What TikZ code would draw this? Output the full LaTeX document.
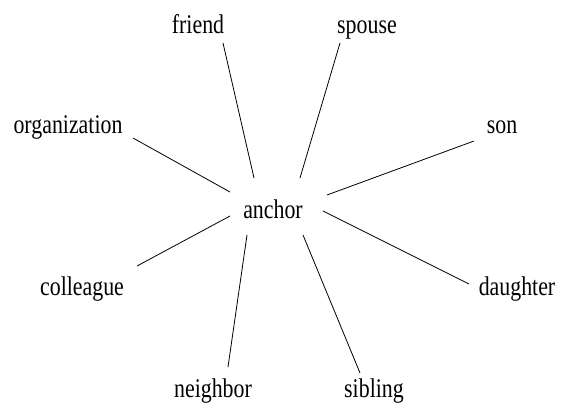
\documentclass[tikz,border=0pt]{standalone}
\usepackage{fontspec}
\usepackage{graphicx}
\setmainfont{Liberation Serif}
\usetikzlibrary{calc}
\tikzset{
  lbl/.style={anchor=base, inner sep=0pt, font=\fontsize{27}{30}\selectfont},
  edge/.style={draw=black, line width=0.8pt}
}
\newcommand{\cond}[1]{\scalebox{0.81}[1]{#1}}
\begin{document}
\begin{tikzpicture}[x=1pt, y=-1pt]
\useasboundingbox[fill=white] (0,0) rectangle (561,407);
\node[lbl] (anchor) at (273,218) {\cond{anchor}};
\node[lbl] (friend) at (198,33) {\cond{friend}};
\node[lbl] (spouse) at (367,33) {\cond{spouse}};
\node[lbl] (organization) at (68,133) {\cond{organization}};
\node[lbl] (son) at (502,133) {\cond{son}};
\node[lbl] (colleague) at (82,295) {\cond{colleague}};
\node[lbl] (daughter) at (517,295) {\cond{daughter}};
\node[lbl] (neighbor) at (213,397) {\cond{neighbor}};
\node[lbl] (sibling) at (374,397) {\cond{sibling}};
\draw[edge] ($(friend.base)+(25,10)$) -- ($(anchor.base)+(-19,-40)$);
\draw[edge] ($(spouse.base)+(-27,10)$) -- ($(anchor.base)+(27,-40)$);
\draw[edge] ($(organization.base)+(65,5)$) -- ($(anchor.base)+(-43,-26)$);
\draw[edge] ($(son.base)+(-28,8)$) -- ($(anchor.base)+(54,-23)$);
\draw[edge] ($(colleague.base)+(55,-29)$) -- ($(anchor.base)+(-43,-2)$);
\draw[edge] ($(daughter.base)+(-48,-11)$) -- ($(anchor.base)+(50,-7)$);
\draw[edge] ($(neighbor.base)+(15,-30)$) -- ($(anchor.base)+(-26,17)$);
\draw[edge] ($(sibling.base)+(-14,-24)$) -- ($(anchor.base)+(30,17)$);
\end{tikzpicture}
\end{document}
